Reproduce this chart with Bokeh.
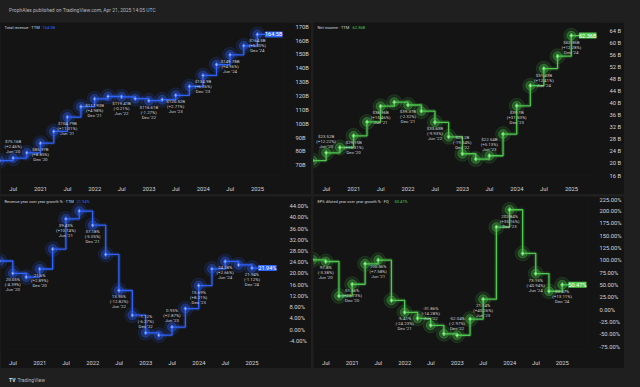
import pandas as pd
from bokeh.plotting import figure
from bokeh.models import Range1d, FixedTicker, Label, Div, ColumnDataSource
from bokeh.layouts import column, row
from bokeh.embed import file_html
from bokeh.resources import INLINE
from bokeh.core.properties import value

# ---------------- data ----------------
quarter_ends = ["2020-03-31", "2020-06-30", "2020-09-30", "2020-12-31",
                "2021-03-31", "2021-06-30", "2021-09-30", "2021-12-31",
                "2022-03-31", "2022-06-30", "2022-09-30", "2022-12-31",
                "2023-03-31", "2023-06-30", "2023-09-30", "2023-12-31",
                "2024-03-31", "2024-06-30", "2024-09-30", "2024-12-31"]
published = "2025-04-21"

revenue_ttm = [73.36, 75.16, 78.98, 85.97, 94.40, 104.79, 112.33, 117.93, 119.67, 119.41,
               118.12, 116.61, 117.35, 120.52, 126.96, 134.90, 142.71, 149.78, 156.23, 164.50]
net_income_ttm = [20.96, 23.52, 25.28, 29.15, 33.74, 38.96, 40.30, 39.37, 37.34, 33.63,
                  28.83, 23.20, 21.44, 22.54, 29.73, 39.10, 45.76, 51.43, 55.54, 62.36]
revenue_growth = [24.44, 20.05, 18.71, 21.60, 28.69, 39.43, 42.23, 37.18, 26.77, 13.95,
                  5.15, -1.12, -1.94, 0.93, 7.48, 15.69, 21.62, 24.28, 23.06, 21.94]
eps_growth = [101.18, 97.80, 27.83, 51.56, 92.98, 100.56, 18.82, -5.41, -17.58, -31.86,
              -49.07, -52.04, -19.12, 21.14, 167.68, 202.84, 114.09, 73.15, 37.36, 50.47]

label_dates = ["Jun '20", "Dec '20", "Jun '21", "Dec '21", "Jun '22",
               "Dec '22", "Jun '23", "Dec '23", "Jun '24", "Dec '24"]
revenue_label_values = ["$75.16B", "$85.97B", "$104.79B", "$117.93B", "$119.41B",
                        "$116.61B", "$120.52B", "$134.9B", "$149.78B", "$164.5B"]
revenue_label_changes = ["(+2.46%)", "(+8.85%)", "(+11.01%)", "(+4.98%)", "(-0.21%)",
                         "(-1.27%)", "(+2.71%)", "(+6.26%)", "(+4.96%)", "(+5.30%)"]
income_label_values = ["$23.52B", "$29.15B", "$38.96B", "$39.37B", "$33.63B",
                       "$23.2B", "$22.54B", "$39.1B", "$51.43B", "$62.36B"]
income_label_changes = ["(+12.22%)", "(+15.31%)", "(+15.46%)", "(-2.32%)", "(-9.93%)",
                        "(-19.54%)", "(+5.13%)", "(+31.50%)", "(+12.41%)", "(+12.28%)"]
growth_label_values = ["20.05%", "21.6%", "39.43%", "37.18%", "13.95%",
                       "-1.12%", "0.93%", "15.69%", "24.28%", "21.94%"]
growth_label_changes = ["(-4.39%)", "(+2.89%)", "(+10.74%)", "(-5.05%)", "(-12.82%)",
                        "(-6.27%)", "(+2.87%)", "(+8.21%)", "(+2.66%)", "(-1.12%)"]
eps_label_values = ["97.8%", "51.56%", "100.56%", "-5.41%", "-31.86%",
                    "-52.04%", "21.14%", "202.84%", "73.15%", "50.47%"]
eps_label_changes = ["(-3.38%)", "(+23.73%)", "(+7.58%)", "(-24.23%)", "(-14.28%)",
                     "(-2.97%)", "(+40.26%)", "(+35.16%)", "(-40.94%)", "(+13.11%)"]

x_tick_dates = ["2020-07-01", "2021-01-01", "2021-07-01", "2022-01-01", "2022-07-01",
                "2023-01-01", "2023-07-01", "2024-01-01", "2024-07-01", "2025-01-01"]
x_tick_labels = ["Jul", "2021", "Jul", "2022", "Jul", "2023", "Jul", "2024", "Jul", "2025"]

revenue_ticks = [70, 80, 90, 100, 110, 120, 130, 140, 150, 160, 170]
revenue_tick_labels = ["70B", "80B", "90B", "100B", "110B", "120B", "130B", "140B", "150B", "160B", "170B"]
income_ticks = [16, 20, 24, 28, 32, 36, 40, 44, 48, 52, 56, 60, 64]
income_tick_labels = ["16 B", "20 B", "24 B", "28 B", "32 B", "36 B", "40 B", "44 B", "48 B",
                      "52 B", "56 B", "60 B", "64 B"]
growth_ticks = [-4, 0, 4, 8, 12, 16, 20, 24, 28, 32, 36, 40, 44]
growth_tick_labels = ["-4.00%", "0.00%", "4.00%", "8.00%", "12.00%", "16.00%", "20.00%",
                      "24.00%", "28.00%", "32.00%", "36.00%", "40.00%", "44.00%"]
eps_ticks = [-75, -50, -25, 0, 25, 50, 75, 100, 125, 150, 175, 200, 225]
eps_tick_labels = ["-75.00%", "-50.00%", "-25.00%", "0.00%", "25.00%", "50.00%", "75.00%",
                   "100.00%", "125.00%", "150.00%", "175.00%", "200.00%", "225.00%"]

# label placement relative to point (style)
revenue_sides = ["above"] + ["below"] * 9
income_sides = ["above", "below", "below", "below", "below", "above", "above", "below", "below", "below"]
growth_sides = ["below"] * 5 + ["above", "above"] + ["below"] * 3
eps_sides = ["below"] * 4 + ["above", "above"] + ["below"] * 4

# ---------------- style ----------------
BG = "#141414"
OUTER = "#1f1f1f"
BLUE = "#2f63ff"
GREEN = "#4fc94f"
AXIS_C = "#d1d4dc"
LABEL_C = "#c9cbd1"
FONT = "Roboto"
W, H = 311, 172

dates = [pd.Timestamp(d) for d in quarter_ends]
x_start = pd.Timestamp("2020-04-06")
x_end = pd.Timestamp("2025-06-25")
tick_ms = [pd.Timestamp(d).value // 10**6 for d in x_tick_dates]


def make_panel(values, color, y_rng, yticks, ytick_labels, title, title_value, value_dx,
               lab_values, lab_changes, sides, box_text):
    p = figure(width=W, height=H, x_axis_type="datetime", y_axis_location="right",
               x_range=Range1d(x_start, x_end), y_range=Range1d(*y_rng),
               output_backend="svg", toolbar_location=None,
               background_fill_color=BG, border_fill_color=BG,
               min_border_left=0, min_border_top=0, min_border_right=27, min_border_bottom=13)
    p.outline_line_color = None
    p.grid.visible = False
    for ax in (p.xaxis[0], p.yaxis[0]):
        ax.axis_line_color = None
        ax.major_tick_line_color = None
        ax.minor_tick_line_color = None
        ax.major_label_text_color = AXIS_C
        ax.major_label_text_font = FONT
        ax.major_label_text_font_size = "5.8px"
    p.xaxis.ticker = FixedTicker(ticks=tick_ms)
    p.xaxis.major_label_overrides = {t: l for t, l in zip(tick_ms, x_tick_labels)}
    p.xaxis.major_label_standoff = 4
    p.yaxis.ticker = FixedTicker(ticks=yticks)
    p.yaxis.major_label_overrides = {t: l for t, l in zip(yticks, ytick_labels)}
    p.yaxis.major_label_standoff = 6

    xs = dates + [pd.Timestamp(published)]
    ys = values + [values[-1]]
    p.step(xs, ys, mode="after", line_width=4, line_color=color, line_alpha=0.18)
    p.step(xs, ys, mode="after", line_width=1.3, line_color=color)
    p.scatter(dates, values, size=15, color=color, alpha=0.13)
    p.scatter(dates, values, size=9, color=color, alpha=0.3)
    p.scatter(dates, values, size=4.5, marker="diamond",
              fill_color="#9fb8ff" if color == BLUE else "#a8f0a8",
              line_color=color, line_width=1)

    lx = dates[1::2]
    ly = values[1::2]
    texts = [f"{v}\n{c}\n{d}" for v, c, d in zip(lab_values, lab_changes, label_dates)]
    for side, base, off in (("below", "top", 4), ("above", "bottom", -4)):
        idx = [i for i, s in enumerate(sides) if s == side]
        if not idx:
            continue
        src = ColumnDataSource(dict(x=[lx[i] for i in idx], y=[ly[i] for i in idx],
                                    t=[texts[i] for i in idx]))
        p.text("x", "y", text="t", source=src, text_align="center", text_baseline=base,
               y_offset=off, text_font_size="4.4px", text_color=LABEL_C,
               text_font=value(FONT), text_line_height=1.0)

    p.add_layout(Label(x=x_start, y=y_rng[1], x_offset=4, y_offset=-2, text=title,
                       text_baseline="top", text_font_size="4px", text_color=AXIS_C,
                       text_font=FONT))
    p.add_layout(Label(x=x_start, y=y_rng[1], x_offset=4 + value_dx, y_offset=-2, text=title_value,
                       text_baseline="top", text_font_size="4px", text_color=color,
                       text_font=FONT))
    p.add_layout(Label(x=x_end, y=values[-1], x_offset=-1, text=box_text, text_align="right",
                       text_baseline="middle", text_font_size="5.6px", text_color="#ffffff",
                       text_font=FONT, background_fill_color=color))
    return p


p1 = make_panel(revenue_ttm, BLUE, (62.6, 173.1), revenue_ticks, revenue_tick_labels,
                "Total revenue · TTM", "164.5B", 38,
                revenue_label_values, revenue_label_changes, revenue_sides, "164.5B")
p2 = make_panel(net_income_ttm, GREEN, (16.0, 66.7), income_ticks, income_tick_labels,
                "Net income · TTM", "62.36B", 35,
                income_label_values, income_label_changes, income_sides, "62.36B")
p3 = make_panel(revenue_growth, BLUE, (-7.05, 47.4), growth_ticks, growth_tick_labels,
                "Revenue year over year growth % · TTM", "21.94%", 72,
                growth_label_values, growth_label_changes, growth_sides, "21.94%")
p4 = make_panel(eps_growth, GREEN, (-81.0, 229.8), eps_ticks, eps_tick_labels,
                "EPS diluted year over year growth % · FQ", "50.47%", 77,
                eps_label_values, eps_label_changes, eps_sides, "50.47%")

header = Div(text='<span style="padding-left:4px">ProphAlex published on TradingView.com, Apr 21, 2025 14:05 UTC</span>',
             width=624, height=10,
             styles={"background-color": OUTER, "color": "#b2b5be", "font-size": "5px",
                     "font-family": FONT, "line-height": "10px"})
footer = Div(text='<span style="padding-left:4px;color:#e0e0e0;font-weight:bold">TV</span>'
                  '<span style="padding-left:2px">TradingView</span>',
             width=624, height=11,
             styles={"background-color": OUTER, "color": "#b2b5be", "font-size": "5px",
                     "font-family": FONT, "line-height": "11px"})

layout = column(header, row(p1, p2, spacing=2), row(p3, p4, spacing=2), footer, spacing=2)

html = file_html(layout, INLINE, title="META fundamentals")
html = html.replace("</head>", "<style>html,body{background:#1f1f1f;}</style></head>")
open("out.html", "w").write(html)
